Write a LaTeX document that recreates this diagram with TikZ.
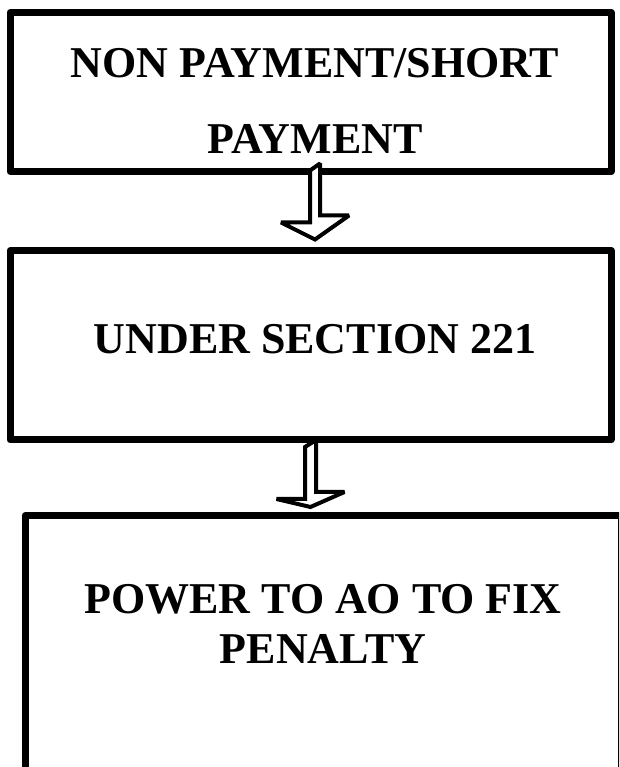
\documentclass[tikz,border=0pt]{standalone}
\usepackage{fontspec}
\setmainfont{Liberation Serif}
\usetikzlibrary{calc, positioning}

\begin{document}
\begin{tikzpicture}[
    x=1pt, y=1pt,
    flowbox/.style={rectangle, draw=black, line width=7pt, line join=round, inner sep=0pt},
    boxtext/.style={align=center, inner sep=0pt, font=\bfseries},
    hollowarrow/.style={draw=black, fill=white, line width=4pt, line join=miter, miter limit=2}
]

\useasboundingbox (0, 0) rectangle (619, 767);
\clip (0, 0) rectangle (619, 767);

% Boxes
\node[flowbox, minimum width=601pt, minimum height=159pt] (nonpay) at (310.5, 675) {};
\node[flowbox, minimum width=601pt, minimum height=189.5pt] (section) at (310.5, 421.75) {};
\node[flowbox, minimum width=596pt, minimum height=281.5pt] (penalty) at (323, 110.75) {};

% Texts
\node[boxtext, font=\fontsize{44}{76}\selectfont\bfseries] (nonpaytext) at (315, 666) {NON PAYMENT/SHORT\\PAYMENT};
\node[boxtext, font=\fontsize{44}{53}\selectfont\bfseries] (sectiontext) at (315, 428) {UNDER SECTION 221};
\node[boxtext, font=\fontsize{44}{50}\selectfont\bfseries] (penaltytext) at (323, 143) {POWER TO AO TO FIX\\PENALTY};

% Arrows
\coordinate (topa) at ($(nonpay.south)+(4.5, 4.5)$);
\coordinate (tipa) at ($(section.north)+(4.5, 7.5)$);
\draw[hollowarrow] ($(topa)+(-5, 0)$) -- ++(0, -52) -- ++(-29, 0) -- (tipa)
    -- ++(34, 24) -- ++(-29, 0) -- ++(0, 52) -- cycle;

\coordinate (topb) at ($(section.south)+(0, -3.5)$);
\coordinate (tipb) at ($(penalty.north)+(-12.5, 5)$);
\draw[hollowarrow] ($(topb)+(-5.5, 0)$) -- ++(0, -52) -- ++(-28.5, 0) -- (tipb)
    -- ++(34, 15) -- ++(-28.5, 0) -- ++(0, 52) -- cycle;

\end{tikzpicture}
\end{document}
